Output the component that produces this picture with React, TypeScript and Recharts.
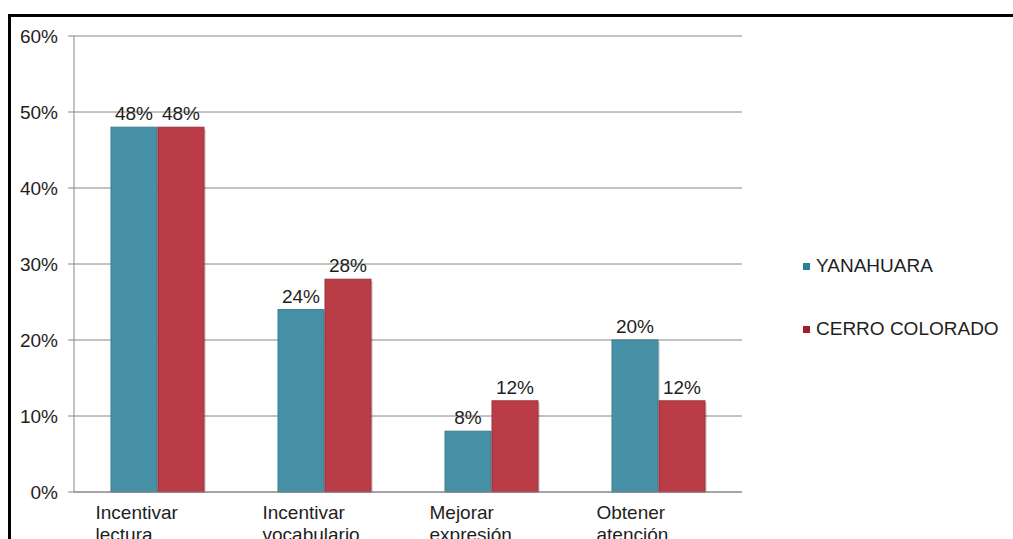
import { BarChart, Bar, XAxis, YAxis, CartesianGrid, Legend, LabelList } from 'recharts'

const CATEGORIES = [
  ['Incentivar', 'lectura'],
  ['Incentivar', 'vocabulario'],
  ['Mejorar', 'expresión'],
  ['Obtener', 'atención'],
]
const YANAHUARA = [48, 24, 8, 20]
const CERRO_COLORADO = [48, 28, 12, 12]
const Y_TICKS = [0, 10, 20, 30, 40, 50, 60]

const SERIES = [
  { key: 'yanahuara', name: 'YANAHUARA', fill: '#4691a5', edge: '#3a7d91', swatch: '#2a7f96' },
  { key: 'cerro', name: 'CERRO COLORADO', fill: '#b93c46', edge: '#9e2f38', swatch: '#a02025' },
]

const FONT = '"Liberation Sans", Arial, sans-serif'
const GRID = '#868686'
const TEXT = '#1e1e1e'

const data = CATEGORIES.map((lines, i) => ({
  name: lines.join(' '),
  lines,
  yanahuara: YANAHUARA[i],
  cerro: CERRO_COLORADO[i],
}))

function ShadowBar(props: any) {
  const { x, y, width, height, fill, stroke } = props
  if (!height) return null
  return (
    <g>
      <rect x={x + 2} y={y + 2} width={width} height={height - 2} fill="#000" fillOpacity={0.14} />
      <rect x={x} y={y} width={width} height={height} fill={fill} stroke={stroke} strokeWidth={1} />
    </g>
  )
}

function CategoryTick({ x, y, payload }: any) {
  const item = data[payload.index] ?? data.find((d) => d.name === payload.value)
  const lines = item ? item.lines : [String(payload.value)]
  return (
    <text x={x - 62} y={y + 20} textAnchor="start" fontSize={19} fontFamily={FONT} fill={TEXT}>
      {lines.map((l: string, i: number) => (
        <tspan key={i} x={x - 62} dy={i === 0 ? '0.36em' : 22}>
          {l}
        </tspan>
      ))}
    </text>
  )
}

function LegendBox() {
  return (
    <div style={{ width: 240, paddingLeft: 61, boxSizing: 'border-box', fontFamily: FONT, fontSize: 19, color: TEXT }}>
      {SERIES.map((s, i) => (
        <div key={s.key} style={{ display: 'flex', alignItems: 'center', height: 20, marginBottom: i === 0 ? 43 : 0, whiteSpace: 'nowrap' }}>
          <span style={{ width: 7, height: 7, flexShrink: 0, background: s.swatch, marginRight: 6, display: 'inline-block' }} />
          {s.name}
        </div>
      ))}
    </div>
  )
}

export default function App() {
  return (
    <div
      style={{
        position: 'absolute',
        left: 8,
        top: 14,
        width: 1005,
        height: 525,
        boxSizing: 'border-box',
        borderTop: '3px solid #000',
        borderLeft: '3px solid #000',
        overflow: 'hidden',
        background: '#fff',
      }}
    >
      <BarChart
        width={1002}
        height={560}
        data={data}
        margin={{ top: 19, right: 31, left: 0, bottom: 55 }}
        barGap={1}
        barSize={46}
        style={{ fontFamily: FONT }}
      >
        <CartesianGrid vertical={false} stroke={GRID} strokeWidth={1} />
        <XAxis
          dataKey="name"
          tick={<CategoryTick />}
          tickLine={false}
          tickSize={0}
          tickMargin={0}
          axisLine={{ stroke: GRID }}
          interval={0}
        />
        <YAxis
          width={63}
          domain={[0, 60]}
          ticks={Y_TICKS}
          tickFormatter={(v) => `${v}%`}
          tick={{ fontSize: 19, fill: TEXT, fontFamily: FONT }}
          tickSize={6}
          tickMargin={10}
          tickLine={{ stroke: GRID }}
          axisLine={{ stroke: GRID }}
        />
        <Legend layout="vertical" align="right" verticalAlign="middle" content={<LegendBox />} wrapperStyle={{ top: 239 }} />
        {SERIES.map((s) => (
          <Bar key={s.key} dataKey={s.key} name={s.name} fill={s.fill} stroke={s.edge} shape={<ShadowBar />} isAnimationActive={false}>
            <LabelList
              dataKey={s.key}
              position="top"
              offset={7}
              formatter={(v: any) => `${v}%`}
              style={{ fontSize: 19, fill: TEXT, fontFamily: FONT }}
            />
          </Bar>
        ))}
      </BarChart>
    </div>
  )
}
